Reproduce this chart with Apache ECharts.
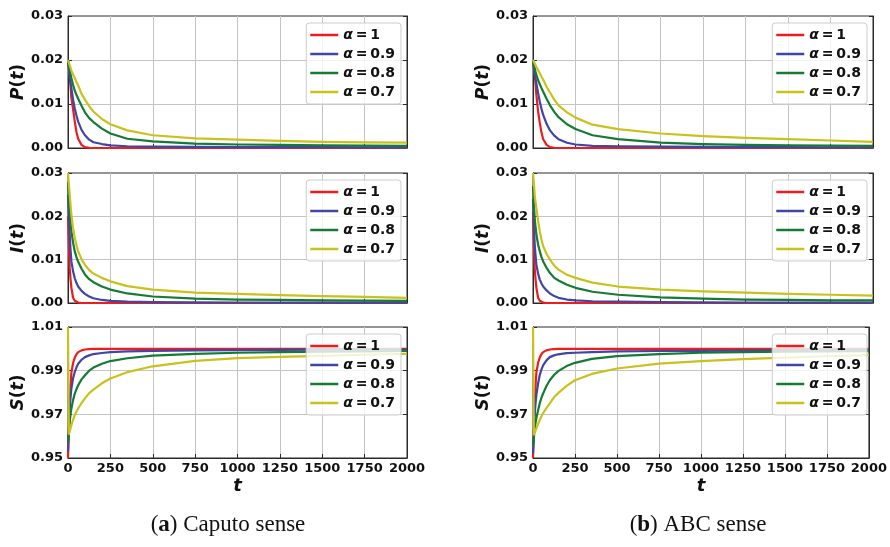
<!DOCTYPE html>
<html><head><meta charset="utf-8">
<script src="https://cdn.jsdelivr.net/npm/echarts@6/dist/echarts.min.js"></script>
<style>html,body{margin:0;padding:0;background:#fff}#c{width:890px;height:547px}</style>
</head><body><div id="c"></div>
<script>
// time samples (t)
const T = [0, 5, 10, 15, 20, 30, 40, 50, 60, 80, 100, 125, 150, 200, 250, 350, 500, 750, 1000, 1250, 1500, 1750, 2000];
const X_TICKS = [0, 250, 500, 750, 1000, 1250, 1500, 1750, 2000];
const PI_TICKS = [0, 0.01, 0.02, 0.03];
const S_TICKS = [0.95, 0.97, 0.99, 1.01];
const ALPHAS = ['1', '0.9', '0.8', '0.7'];
const CAPTIONS = ['Caputo sense', 'ABC sense'];
const CAPTION_TAGS = ['a', 'b'];
const Y_NAMES = ['P', 'I', 'S'];

// (a) Caputo sense
const capP_1  = [0.020,0.0185,0.0166,0.0140,0.0115,0.0088,0.0060,0.0036,0.0021,0.0007,0.0002,0.00005,0,0,0,0,0,0,0,0,0,0,0];
const capP_09 = [0.020,0.0180,0.0163,0.0148,0.0136,0.0110,0.0090,0.0074,0.0060,0.0041,0.0029,0.0019,0.0013,0.0009,0.0006,0.0004,0.0003,0.00025,0.0002,0.0002,0.00018,0.00016,0.00015];
const capP_08 = [0.020,0.0188,0.0178,0.0168,0.0159,0.0143,0.0130,0.0121,0.0112,0.0096,0.0081,0.0068,0.0059,0.0044,0.0033,0.0021,0.0015,0.0010,0.0008,0.0007,0.0006,0.00055,0.0005];
const capP_07 = [0.020,0.0194,0.0188,0.0182,0.0176,0.0167,0.0159,0.0150,0.0142,0.0123,0.0110,0.0095,0.0083,0.0066,0.0054,0.0040,0.0029,0.0022,0.0019,0.0016,0.0014,0.0013,0.0012];

const capI_1  = [0.020,0.0135,0.0081,0.0055,0.0035,0.0012,0.0005,0.0002,0.0001,0,0,0,0,0,0,0,0,0,0,0,0,0,0];
const capI_09 = [0.025,0.0200,0.0158,0.0122,0.0096,0.0073,0.0057,0.0046,0.0038,0.0028,0.0021,0.0015,0.0011,0.0007,0.0005,0.0003,0.0002,0.00015,0.00012,0.0001,0.0001,0.0001,0.0001];
const capI_08 = [0.028,0.0240,0.0210,0.0185,0.0165,0.0139,0.0119,0.0106,0.0095,0.0079,0.0066,0.0055,0.0048,0.0038,0.0031,0.0022,0.0015,0.0010,0.0008,0.0007,0.0006,0.00055,0.0005];
const capI_07 = [0.030,0.0275,0.0250,0.0226,0.0204,0.0173,0.0150,0.0133,0.0119,0.0101,0.0088,0.0076,0.0068,0.0058,0.0050,0.0039,0.0031,0.0024,0.0021,0.0018,0.0016,0.0014,0.0012];

const capS_1  = [0.950,0.962,0.974,0.983,0.989,0.9935,0.996,0.9975,0.9985,0.9993,0.9997,0.9999,1.0,1.0,1.0,1.0,1.0,1.0,1.0,1.0,1.0,1.0,1.0];
const capS_09 = [0.953,0.964,0.9727,0.978,0.9818,0.9865,0.9894,0.9915,0.9932,0.995,0.9962,0.997,0.9976,0.9981,0.9985,0.9988,0.9991,0.9993,0.9994,0.9995,0.9996,0.9996,0.9997];
const capS_08 = [0.957,0.962,0.9667,0.970,0.9727,0.9765,0.9795,0.9815,0.9833,0.986,0.9879,0.990,0.9914,0.9932,0.9944,0.9957,0.9969,0.9977,0.9982,0.9985,0.9987,0.9988,0.999];
const capS_07 = [1.010,0.961,0.962,0.9635,0.965,0.9675,0.9697,0.9713,0.9727,0.9752,0.9773,0.9797,0.9813,0.9842,0.9864,0.9893,0.992,0.9945,0.9957,0.9963,0.9968,0.9973,0.9977];

// (b) ABC sense
const abcP_1  = [0.020,0.0185,0.0166,0.0145,0.0120,0.0083,0.0057,0.0035,0.0020,0.0007,0.0002,0.00005,0,0,0,0,0,0,0,0,0,0,0];
const abcP_09 = [0.020,0.0183,0.0170,0.0158,0.0147,0.0125,0.0105,0.0089,0.0075,0.0055,0.0040,0.0028,0.0020,0.0012,0.0008,0.0005,0.0004,0.0003,0.00025,0.0002,0.00018,0.00016,0.00015];
const abcP_08 = [0.020,0.0190,0.0181,0.0173,0.0166,0.0154,0.0145,0.0136,0.0128,0.0112,0.0097,0.0082,0.0070,0.0054,0.0043,0.0029,0.0020,0.0012,0.0009,0.0007,0.0006,0.00055,0.0005];
const abcP_07 = [0.020,0.0196,0.0192,0.0188,0.0184,0.0177,0.0170,0.0162,0.0155,0.0139,0.0126,0.0110,0.0097,0.0081,0.0069,0.0053,0.0043,0.0033,0.0027,0.0023,0.0020,0.0017,0.0014];

const abcI_1  = [0.021,0.0135,0.0080,0.0055,0.0035,0.0012,0.0005,0.0002,0.0001,0,0,0,0,0,0,0,0,0,0,0,0,0,0];
const abcI_09 = [0.024,0.0185,0.0135,0.0110,0.0088,0.0068,0.0054,0.0045,0.0038,0.0029,0.0022,0.0016,0.0012,0.0008,0.0006,0.0004,0.0003,0.0002,0.00015,0.00012,0.0001,0.0001,0.0001];
const abcI_08 = [0.027,0.0230,0.0196,0.0175,0.0158,0.0135,0.0119,0.0106,0.0096,0.0081,0.0069,0.0058,0.0052,0.0042,0.0035,0.0026,0.0019,0.0013,0.0010,0.0008,0.0007,0.0006,0.0006];
const abcI_07 = [0.030,0.0278,0.0250,0.0233,0.0219,0.0190,0.0165,0.0146,0.0131,0.0113,0.0100,0.0086,0.0077,0.0065,0.0058,0.0047,0.0038,0.0031,0.0027,0.0024,0.0021,0.0019,0.0017];

const abcS_1  = [0.950,0.962,0.974,0.983,0.989,0.9935,0.996,0.9975,0.9985,0.9993,0.9997,0.9999,1.0,1.0,1.0,1.0,1.0,1.0,1.0,1.0,1.0,1.0,1.0];
const abcS_09 = [0.952,0.962,0.9697,0.975,0.9788,0.984,0.9879,0.9905,0.9924,0.9947,0.9962,0.997,0.9975,0.998,0.9982,0.9985,0.9988,0.999,0.9991,0.9992,0.9993,0.9994,0.9995];
const abcS_08 = [0.955,0.959,0.9636,0.966,0.9682,0.9718,0.975,0.9775,0.9795,0.983,0.9856,0.988,0.9898,0.9921,0.9936,0.9954,0.9967,0.9976,0.9982,0.9985,0.9987,0.9988,0.9989];
const abcS_07 = [1.010,0.9607,0.9614,0.9625,0.9636,0.9655,0.9674,0.969,0.9705,0.9728,0.975,0.9778,0.9797,0.983,0.9856,0.9885,0.991,0.9932,0.9944,0.9953,0.996,0.9966,0.9971];

const PANELS = [
  [capP_1, capP_09, capP_08, capP_07],
  [capI_1, capI_09, capI_08, capI_07],
  [capS_1, capS_09, capS_08, capS_07],
  [abcP_1, abcP_09, abcP_08, abcP_07],
  [abcI_1, abcI_09, abcI_08, abcI_07],
  [abcS_1, abcS_09, abcS_08, abcS_07]
];

const COLORS = ['#ee1c1c', '#3f46a6', '#157a34', '#c9c21c'];
const FONT = 'DejaVu Sans';
const TXT = '#111';

const colLeft = [68, 533], colWidth = [339, 340];
const rowTop = [16, 173, 327], rowHeight = [132, 130, 131];

const grids = [], xAxes = [], yAxes = [], series = [], legends = [];
const seriesNames = ALPHAS.map(a => 'α\u2009=\u2009' + a);

for (let c = 0; c < 2; c++) {
  for (let r = 0; r < 3; r++) {
    const g = c * 3 + r;
    const isS = r === 2;
    grids.push({left: colLeft[c], width: colWidth[c], top: rowTop[r], height: rowHeight[r],
      show: true, borderColor: '#2a2a2a', borderWidth: 1, backgroundColor: 'transparent'});
    xAxes.push({
      type: 'value', gridIndex: g, min: 0, max: 2000, interval: 250,
      name: isS ? 't' : '', nameLocation: 'middle', nameGap: 19,
      nameTextStyle: {fontFamily: FONT, fontSize: 18, fontStyle: 'italic', fontWeight: 'bold', color: TXT},
      axisLine: {show: true, lineStyle: {color: '#2a2a2a', width: 1}},
      axisTick: {show: true, inside: true, length: 4, lineStyle: {color: '#2a2a2a'}},
      axisLabel: {show: isS, margin: 4, fontFamily: FONT, fontSize: 13, fontWeight: 'bold', color: TXT,
        customValues: X_TICKS, formatter: v => String(v)},
      splitLine: {show: true, showMinLine: false, showMaxLine: false, lineStyle: {color: '#c4c4c4', width: 1}}
    });
    const ticks = isS ? S_TICKS : PI_TICKS;
    const yBase = {
      type: 'value', gridIndex: g, min: ticks[0], max: ticks[ticks.length - 1]
    };
    yAxes.push(Object.assign({}, yBase, {
      position: 'left',
      name: '{i|' + Y_NAMES[r] + '}({i|t})', nameLocation: 'middle', nameGap: 31, nameRotate: 90,
      nameTextStyle: {fontFamily: FONT, fontSize: 17, fontWeight: 'bold', color: TXT,
        rich: {i: {fontFamily: FONT, fontSize: 17, fontWeight: 'bold', fontStyle: 'italic', color: TXT}}},
      axisLine: {show: true, lineStyle: {color: '#2a2a2a', width: 1}},
      axisTick: {show: true, inside: true, length: 4, lineStyle: {color: '#2a2a2a'}, customValues: ticks},
      axisLabel: {show: true, margin: 5, fontFamily: FONT, fontSize: 13, fontWeight: 'bold', color: TXT,
        customValues: ticks, formatter: v => v.toFixed(2)},
      splitLine: {show: true, showMinLine: false, showMaxLine: false, lineStyle: {color: '#c4c4c4', width: 1}}
    }));
    yAxes.push(Object.assign({}, yBase, {
      position: 'right',
      axisLine: {show: true, lineStyle: {color: '#2a2a2a', width: 1}},
      axisTick: {show: true, inside: true, length: 4, lineStyle: {color: '#2a2a2a'}, customValues: ticks},
      axisLabel: {show: false},
      splitLine: {show: false}
    }));
    const data = PANELS[g];
    for (let k = 0; k < 4; k++) {
      series.push({
        type: 'line', name: seriesNames[k], xAxisIndex: g, yAxisIndex: g * 2,
        data: T.map((t, i) => [t, data[k][i]]),
        symbol: 'none', smooth: false,
        lineStyle: {color: COLORS[k], width: 2.2, join: 'round'}, itemStyle: {color: COLORS[k]},
        z: 3 + k
      });
    }
    legends.push({
      orient: 'vertical', right: 890 - (colLeft[c] + colWidth[c]) + 6, top: rowTop[r] + 7,
      data: seriesNames.map((n, k) => ({name: n, icon: 'rect', itemStyle: {color: COLORS[k]}})),
      itemWidth: 28, itemHeight: 2.5, itemGap: 5, itemTextGap: 8,
      padding: [5, 6, 5, 4],
      backgroundColor: 'rgba(255,255,255,0.8)', borderColor: '#cccccc', borderWidth: 1, borderRadius: 3,
      selectedMode: false,
      formatter: n => '{i|α}' + n.slice(1),
      textStyle: {fontFamily: FONT, fontSize: 14, fontWeight: 'bold', color: TXT, height: 14, lineHeight: 14,
        rich: {i: {fontFamily: FONT, fontSize: 14, fontWeight: 'bold', fontStyle: 'italic', color: TXT}}},
      z: 10
    });
  }
}

const captionX = [228, 698];
const graphics = CAPTIONS.map((txt, i) => ({
  type: 'text', x: captionX[i], y: 525,
  style: {
    text: '{n|(}{b|' + CAPTION_TAGS[i] + '}{n|) ' + txt + '}',
    align: 'center', verticalAlign: 'middle',
    rich: {
      n: {fontFamily: 'Liberation Serif', fontSize: 23, fill: '#111'},
      b: {fontFamily: 'Liberation Serif', fontSize: 23, fontWeight: 'bold', fill: '#111'}
    }
  }
}));

const chart = echarts.init(document.getElementById('c'), null, {renderer: 'canvas'});
chart.setOption({
  animation: false,
  backgroundColor: '#fff',
  grid: grids, xAxis: xAxes, yAxis: yAxes, series: series, legend: legends,
  graphic: graphics
});
</script>
</body></html>
